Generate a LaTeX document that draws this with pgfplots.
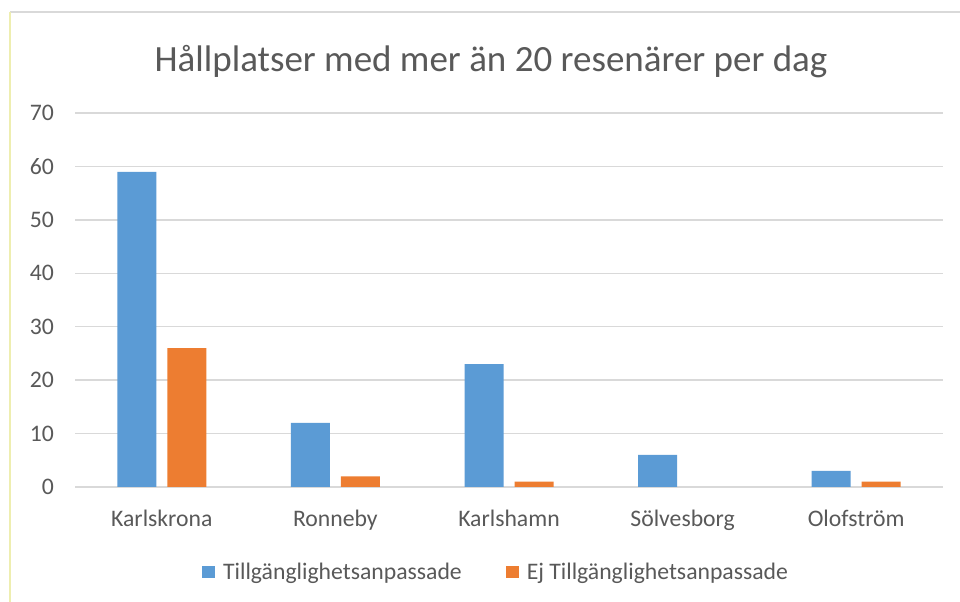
\documentclass[border=0pt]{standalone}
\usepackage{fontspec}
\setmainfont{Carlito}
\usepackage{pgfplots}
\pgfplotsset{compat=1.18}
\definecolor{txt}{HTML}{595959}
\definecolor{gridc}{HTML}{D9D9D9}
\definecolor{sblue}{HTML}{5B9BD5}
\definecolor{sorange}{HTML}{ED7D31}
\definecolor{bordertop}{HTML}{D9D9D9}
\definecolor{borderleft}{HTML}{EEEEB0}
\begin{document}
\begin{tikzpicture}
\path[use as bounding box] (0,0) rectangle (960bp,602bp);
\fill[white] (0,0) rectangle (960bp,602bp);
\draw[bordertop,line width=1.2bp] (10bp,590bp) -- (960bp,590bp);
\draw[borderleft,line width=1.5bp] (10bp,590bp) -- (10bp,0bp);
\node[anchor=base,text=txt,font=\fontsize{37bp}{44bp}\selectfont,inner sep=0pt] at (491bp,530bp) {Hållplatser med mer än 20 resenärer per dag};
\begin{axis}[
  at={(75bp,115bp)}, anchor=south west,
  scale only axis, width=868bp, height=374bp,
  xmin=-0.5, xmax=4.5, ymin=0, ymax=70,
  enlarge x limits=false, enlarge y limits=false,
  ytick={0,10,...,70},
  xtick={0,1,2,3,4},
  xticklabels={Karlskrona,Ronneby,Karlshamn,Sölvesborg,Olofström},
  major tick length=0pt,
  axis line style={draw=none},
  ymajorgrids, grid style={gridc,line width=1.5bp},
  /pgf/number format/assume math mode=true,
  tick label style={text=txt,font=\fontsize{23.7bp}{28bp}\selectfont,inner sep=0pt},
  xticklabel style={anchor=base,yshift=-39bp},
  yticklabel style={anchor=east,xshift=-21bp},
  ybar=11bp, bar width=39bp,
  legend style={draw=none,fill=none,at={(0.484,-0.228)},anchor=center,
    legend columns=2, font=\fontsize{23.7bp}{28bp}\selectfont, text=txt,
    nodes={inner sep=0pt},
    /tikz/every odd column/.append style={column sep=8bp},
    /tikz/every even column/.append style={column sep=44bp}},
  legend image code/.code={\fill[#1,draw=none] (0bp,-6bp) rectangle (13bp,6bp);},
]
\addplot[fill=sblue,draw=none] coordinates {(0,59) (1,12) (2,23) (3,6) (4,3)};
\addplot[fill=sorange,draw=none] coordinates {(0,26) (1,2) (2,1) (3,0) (4,1)};
\legend{Tillgänglighetsanpassade,Ej Tillgänglighetsanpassade}
\end{axis}
\end{tikzpicture}
\end{document}
